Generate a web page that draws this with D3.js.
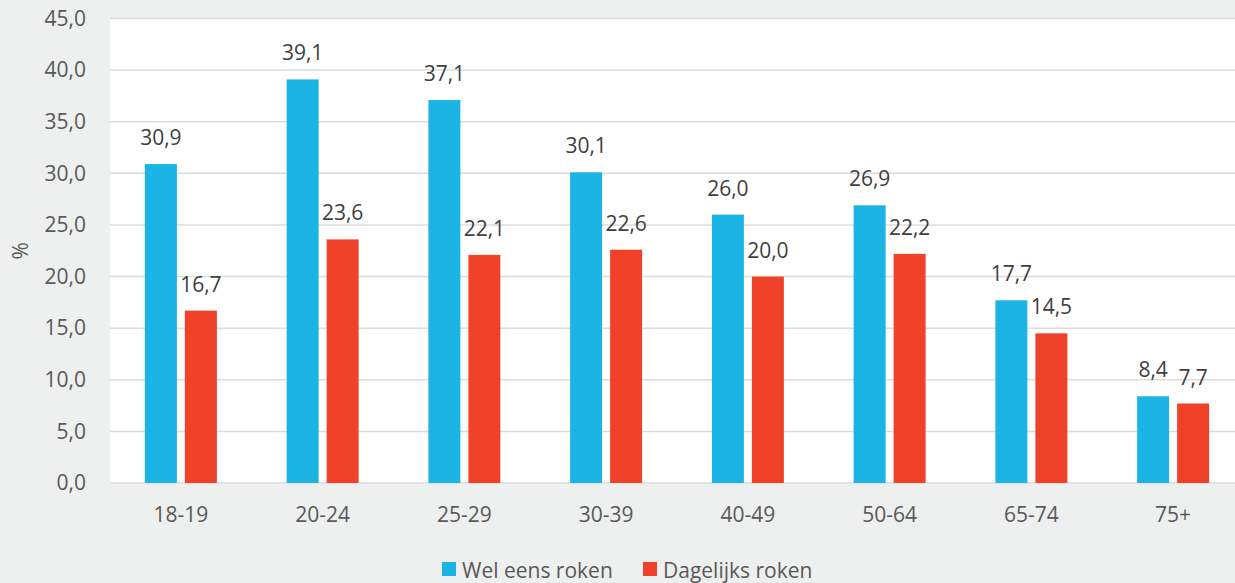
<!DOCTYPE html>
<html>
<head>
<meta charset="utf-8">
<script src="https://cdn.jsdelivr.net/npm/d3@7"></script>
<style>
  body { margin: 0; background: #eeefef; }
  svg { display: block; font-family: "Open Sans", sans-serif; }
</style>
</head>
<body>
<svg id="chart" width="1235" height="583"></svg>
<script>
const categories = ["18-19", "20-24", "25-29", "30-39", "40-49", "50-64", "65-74", "75+"]
const series = ["Wel eens roken", "Dagelijks roken"]
const welEens = [30.9, 39.1, 37.1, 30.1, 26.0, 26.9, 17.7, 8.4]
const dagelijks = [16.7, 23.6, 22.1, 22.6, 20.0, 22.2, 14.5, 7.7]
const yTicks = [0, 5, 10, 15, 20, 25, 30, 35, 40, 45]
const colors = ["#1bb4e4", "#ef4229"]

const values = [welEens, dagelijks]
const fmt = v => v.toFixed(1).replace(".", ",")
const fs = 21

const svg = d3.select("#chart")
const plotL = 110, plotR = 1244, plotT = 18.5, plotB = 483

const x = d3.scaleBand().domain(categories).range([plotL, plotR])
const x1 = d3.scaleBand().domain(series).range([-36, 36]).paddingInner(0.2)
const y = d3.scaleLinear().domain([0, 45]).range([plotB, plotT])

// plot area
svg.append("rect")
  .attr("x", plotL).attr("y", plotT)
  .attr("width", plotR - plotL).attr("height", plotB - plotT)
  .attr("fill", "#ffffff")

// gridlines
svg.append("g")
  .selectAll("line")
  .data(yTicks)
  .join("line")
  .attr("x1", plotL).attr("x2", plotR)
  .attr("y1", d => y(d)).attr("y2", d => y(d))
  .attr("stroke", "#dcdcdc")
  .attr("stroke-width", 1.5)

// y tick labels
const yAxis = svg.append("g")
  .attr("transform", `translate(${plotL},0)`)
  .call(d3.axisLeft(y).tickValues(yTicks).tickFormat(fmt).tickSize(0).tickPadding(24))
yAxis.select(".domain").remove()
yAxis.selectAll("text")
  .attr("font-size", fs)
  .attr("font-family", "Open Sans")
  .attr("fill", "#595959")

svg.append("text")
  .attr("transform", `translate(28,${(plotT + plotB) / 2}) rotate(-90)`)
  .attr("text-anchor", "middle")
  .attr("font-size", fs)
  .attr("fill", "#595959")
  .text("%")

// x labels
const xAxis = svg.append("g")
  .attr("transform", `translate(0,${plotB})`)
  .call(d3.axisBottom(x).tickSize(0).tickPadding(24))
xAxis.select(".domain").remove()
xAxis.selectAll("text")
  .attr("font-size", fs)
  .attr("font-family", "Open Sans")
  .attr("fill", "#595959")

// bars
series.forEach((s, si) => {
  const g = svg.append("g")
  g.selectAll("rect")
    .data(values[si])
    .join("rect")
    .attr("x", (d, i) => x(categories[i]) + x.bandwidth() / 2 + x1(s))
    .attr("y", d => y(d))
    .attr("width", x1.bandwidth())
    .attr("height", d => plotB - y(d))
    .attr("fill", colors[si])
  g.selectAll("text")
    .data(values[si])
    .join("text")
    .attr("x", (d, i) => x(categories[i]) + x.bandwidth() / 2 + x1(s) + x1.bandwidth() / 2)
    .attr("y", d => y(d) - 19)
    .attr("text-anchor", "middle")
    .attr("font-size", fs)
    .attr("fill", "#404040")
    .text(fmt)
})

// legend
const legendPos = [442, 643]
series.forEach((s, si) => {
  svg.append("rect")
    .attr("x", legendPos[si]).attr("y", 562)
    .attr("width", 14).attr("height", 14)
    .attr("fill", colors[si])
  svg.append("text")
    .attr("x", legendPos[si] + 20).attr("y", 578)
    .attr("font-size", fs)
    .attr("fill", "#595959")
    .text(s)
})
</script>
</body>
</html>
